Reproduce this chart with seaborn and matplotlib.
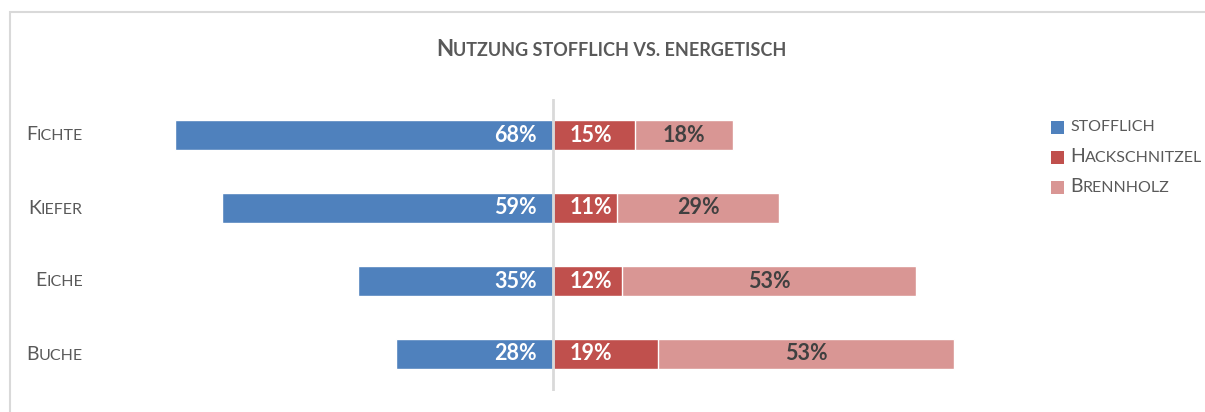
import matplotlib
matplotlib.use("Agg")
import matplotlib.pyplot as plt
from matplotlib.offsetbox import TextArea, HPacker, AnnotationBbox
from matplotlib.patches import Rectangle
from matplotlib.transforms import blended_transform_factory
import seaborn as sns
import pandas as pd

# daten (anteile in %, aus den balkenlaengen geschaetzt)
holzarten = ["Fichte", "Kiefer", "Eiche", "Buche"]
stofflich = [67.7, 59.4, 34.9, 28.1]
hackschnitzel = [14.7, 11.4, 12.4, 18.8]
brennholz = [17.6, 29.2, 52.7, 53.1]

serien = ["stofflich", "Hackschnitzel", "Brennholz"]
farben = ["#4F81BD", "#C0504D", "#D99694"]
titel = "Nutzung stofflich vs. energetisch"

sns.set_theme(style="white")
plt.rcParams["font.family"] = ["Lato", "DejaVu Sans"]

GRAU = "#595959"
W, H = 1205, 412


def kapitaelchen(text, gross, klein, weight="normal", color=GRAU):
    # kapitaelchen nachbauen: grossbuchstaben gross, rest als kleine versalien
    runs = []
    for ch in text:
        size = gross if ch.isupper() else klein
        if runs and runs[-1][1] == size:
            runs[-1][0] += ch.upper()
        else:
            runs.append([ch.upper(), size])
    kinder = [TextArea(t, textprops=dict(fontsize=s, fontweight=weight, color=color,
                                         family=["Lato", "DejaVu Sans"]))
              for t, s in runs]
    return HPacker(children=kinder, align="baseline", pad=0, sep=0)


df = pd.DataFrame({"holzart": holzarten, "stofflich": stofflich,
                   "hackschnitzel": hackschnitzel, "brennholz": brennholz})
df["links"] = -df["stofflich"]
df["energetisch"] = df["hackschnitzel"] + df["brennholz"]

fig = plt.figure(figsize=(W / 100, H / 100), dpi=100)
ax = fig.add_axes([162.4 / W, 21.5 / H, 809 / W, 292 / H])

kw = dict(y="holzart", orient="h", width=0.41, edgecolor="white", linewidth=1,
          saturation=1, errorbar=None, ax=ax)
sns.barplot(data=df, x="energetisch", color=farben[2], **kw)
sns.barplot(data=df, x="hackschnitzel", color=farben[1], **kw)
sns.barplot(data=df, x="links", color=farben[0], **kw)

ax.axvline(0, color="#D9D9D9", lw=2, zorder=5)
ax.set_xlim(-70, 75)
ax.set_ylim(3.5, -0.5)
ax.set_xticks([])
ax.set_yticks(range(len(holzarten)))
ax.set_yticklabels([])
ax.tick_params(left=False)
ax.set_xlabel("")
ax.set_ylabel("")
sns.despine(ax=ax, left=True, bottom=True)

# werte in den balken
lab = dict(va="center", fontweight="bold", fontsize=15.5, zorder=6)
for i, row in df.iterrows():
    ax.annotate(f"{row['stofflich']:.0f}%", xy=(0, i), xytext=(-16, 0), textcoords="offset pixels",
                ha="right", color="white", **lab)
    ax.annotate(f"{row['hackschnitzel']:.0f}%", xy=(0, i), xytext=(17, 0), textcoords="offset pixels",
                ha="left", color="white", **lab)
    ax.annotate(f"{row['brennholz']:.0f}%", xy=(row["hackschnitzel"] + row["brennholz"] / 2, i),
                ha="center", color="#404040", **lab)

# achsenbeschriftung links
trans = blended_transform_factory(fig.transFigure, ax.transData)
for i, name in enumerate(holzarten):
    ab = AnnotationBbox(kapitaelchen(name, 14, 11.5), (83 / W, i), xycoords=trans,
                        box_alignment=(1, 0.5), frameon=False)
    ax.add_artist(ab)

# titel
ab = AnnotationBbox(kapitaelchen(titel, 16, 13, weight="bold"), (611 / W, 1 - 50 / H),
                    xycoords="figure fraction", box_alignment=(0.5, 0.5), frameon=False)
fig.add_artist(ab)

# legende
for k, (name, col) in enumerate(zip(serien, farben)):
    yc = 1 - (127 + 30 * k) / H
    fig.add_artist(Rectangle((1051 / W, yc - 6.5 / H), 13 / W, 13 / H,
                             transform=fig.transFigure, facecolor=col, edgecolor="none"))
    ab = AnnotationBbox(kapitaelchen(name, 14, 11.5), (1070 / W, yc),
                        xycoords="figure fraction", box_alignment=(0, 0.5), frameon=False)
    fig.add_artist(ab)

# rahmen
fig.add_artist(Rectangle((10 / W, -0.1), 1.2, 1.1 - 12.5 / H, transform=fig.transFigure,
                         fill=False, edgecolor="#D9D9D9", lw=1.5))

fig.savefig("out.png", dpi=100)
